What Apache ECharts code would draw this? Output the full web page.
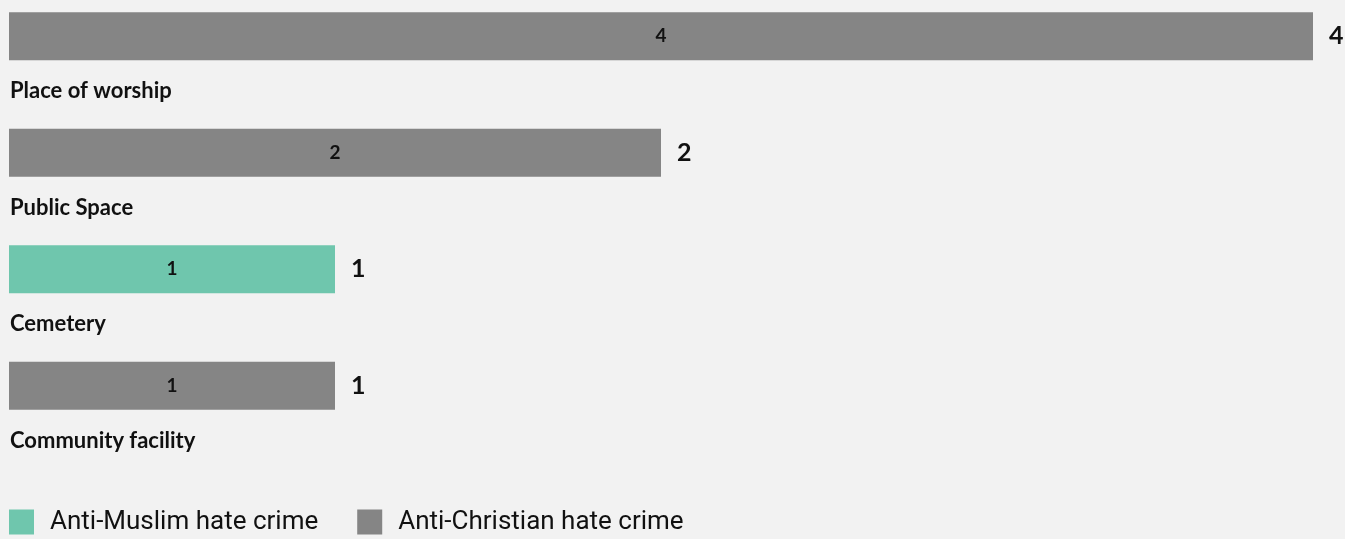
<!DOCTYPE html>
<html>
<head>
<meta charset="utf-8">
<script src="https://cdn.jsdelivr.net/npm/echarts@6/dist/echarts.min.js"></script>
<style>
  html, body { margin: 0; padding: 0; background: #f2f2f2; }
  #main { width: 1345px; height: 539px; }
</style>
</head>
<body>
<div id="main"></div>
<script>
var categories = ['Place of worship', 'Public Space', 'Cemetery', 'Community facility'];
var antiMuslim = [0, 0, 1, 0];
var antiChristian = [4, 2, 0, 1];
var totals = categories.map(function (c, i) { return antiMuslim[i] + antiChristian[i]; });

var chartDom = document.getElementById('main');
var myChart = echarts.init(chartDom);

var insideLabel = {
  show: true,
  position: 'inside',
  color: '#111',
  fontFamily: 'Lato',
  fontWeight: 'bold',
  fontSize: 19,
  formatter: function (p) { return p.value > 0 ? p.value : ''; }
};

var option = {
  backgroundColor: '#f2f2f2',
  animation: false,
  grid: { left: 9, right: 32, top: -22, height: 466, containLabel: false, outerBoundsMode: 'none' },
  xAxis: { type: 'value', min: 0, max: 4, show: false },
  yAxis: {
    type: 'category',
    data: categories,
    inverse: true,
    axisLine: { show: false },
    axisTick: { show: false },
    axisLabel: {
      inside: true,
      margin: 1,
      verticalAlign: 'top',
      padding: [43, 0, 0, 0],
      lineHeight: 24,
      color: '#111',
      fontFamily: 'Lato',
      fontWeight: 'bold',
      fontSize: 22
    }
  },
  legend: {
    left: 9,
    top: 509,
    padding: 0,
    icon: 'rect',
    itemWidth: 25,
    itemHeight: 25,
    itemGap: 39,
    textStyle: { fontFamily: 'Roboto', fontSize: 26, color: '#111', padding: [0, 0, 0, 11] },
    data: ['Anti-Muslim hate crime', 'Anti-Christian hate crime']
  },
  series: [
    {
      name: 'Anti-Muslim hate crime',
      type: 'bar',
      stack: 'total',
      barWidth: 48,
      itemStyle: { color: '#6fc6ad' },
      label: insideLabel,
      data: antiMuslim
    },
    {
      name: 'Anti-Christian hate crime',
      type: 'bar',
      stack: 'total',
      barWidth: 48,
      itemStyle: { color: '#858585' },
      label: insideLabel,
      data: antiChristian
    },
    {
      name: 'total',
      type: 'bar',
      stack: 'total',
      barWidth: 48,
      itemStyle: { color: 'transparent' },
      label: {
        show: true,
        position: 'right',
        distance: 16,
        color: '#111',
        fontFamily: 'Lato',
        fontWeight: 'bold',
        fontSize: 25,
        formatter: function (p) { return totals[p.dataIndex]; }
      },
      data: totals.map(function () { return 0; })
    }
  ]
};

myChart.setOption(option);
window.addEventListener('resize', function () { myChart.resize(); });
</script>
</body>
</html>
